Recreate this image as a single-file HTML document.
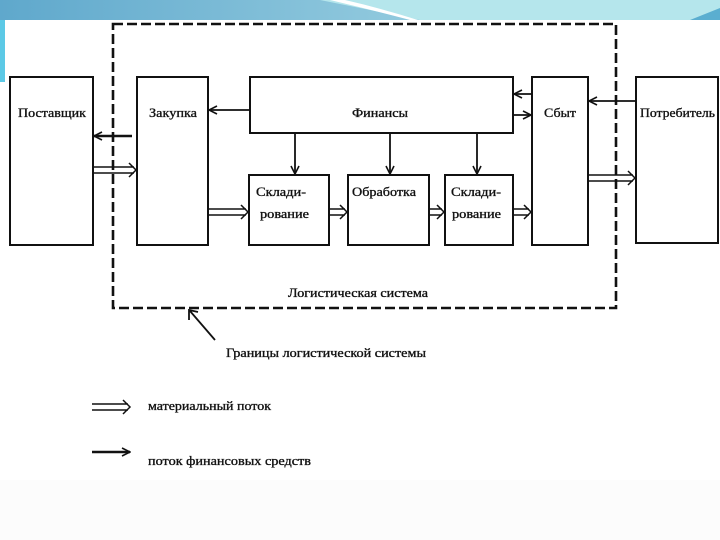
<!DOCTYPE html>
<html><head><meta charset="utf-8"><style>
html,body{margin:0;padding:0;background:#fff;}
svg{display:block;}
text{font-family:"Liberation Serif",serif;font-size:13px;fill:#111;stroke:#111;stroke-width:0.35;}
</style></head><body>
<svg width="720" height="540" viewBox="0 0 720 540">
<defs>
<linearGradient id="hg" x1="0" x2="1" y1="0" y2="0">
<stop offset="0" stop-color="#5fa8cc"/><stop offset="0.5" stop-color="#8cc6dc"/><stop offset="1" stop-color="#a9dfe8"/>
</linearGradient>
<marker id="a" markerWidth="10" markerHeight="10" refX="9" refY="5" orient="auto" markerUnits="userSpaceOnUse">
<path d="M1,1 L9,5 L1,9" fill="none" stroke="#111" stroke-width="1.6"/></marker>
</defs>
<rect x="0" y="0" width="720" height="20" fill="url(#hg)"/>
<path d="M320,0 L420,20 L720,20 L720,0 Z" fill="#b5e6ec"/>
<path d="M330,0 Q380,12 410,20 L418,20 Q380,8 345,0Z" fill="#fff"/>
<path d="M690,20 L720,8 L720,20Z" fill="#5aaed0"/>
<rect x="0" y="20" width="5" height="62" fill="#5cc9e6"/>
<rect x="0" y="480" width="720" height="60" fill="#fcfcfc"/>
<g fill="none" stroke="#111" stroke-width="2">
<rect x="113" y="24" width="503" height="284" stroke-dasharray="10,4" stroke-width="2.6"/>
<rect x="10" y="77" width="83" height="168"/>
<rect x="137" y="77" width="71" height="168"/>
<rect x="250" y="77" width="263" height="56"/>
<rect x="532" y="77" width="56" height="168"/>
<rect x="636" y="77" width="82" height="166"/>
<rect x="249" y="175" width="80" height="70"/>
<rect x="348" y="175" width="81" height="70"/>
<rect x="445" y="175" width="68" height="70"/>
</g>
<g stroke="#111" stroke-width="1.8" fill="none" marker-end="url(#a)">
<line x1="250" y1="110" x2="209" y2="110"/>
<line x1="132" y1="136" x2="94" y2="136" stroke-width="2.5"/>
<line x1="295" y1="133" x2="295" y2="174"/>
<line x1="390" y1="133" x2="390" y2="174"/>
<line x1="477" y1="133" x2="477" y2="174"/>
<line x1="532" y1="94" x2="514" y2="94"/>
<line x1="513" y1="115" x2="531" y2="115"/>
<line x1="636" y1="101" x2="589" y2="101"/>
<line x1="92" y1="452" x2="130" y2="452" stroke-width="2.5"/>
</g>
<g stroke="#111" stroke-width="1.5" fill="none">
<path d="M93,167 H134 M93,173 H134 M129,163 L136,170 L129,177"/>
<path d="M208,209 H246 M208,215 H246 M241,205 L248,212 L241,219"/>
<path d="M329,209 H345 M329,215 H345 M340,205 L347,212 L340,219"/>
<path d="M429,209 H442 M429,215 H442 M437,205 L444,212 L437,219"/>
<path d="M513,209 H529 M513,215 H529 M524,205 L531,212 L524,219"/>
<path d="M588,175 H633 M588,181 H633 M628,171 L635,178 L628,185"/>
<path d="M92,404 H128 M92,410 H128 M123,400 L130,407 L123,414"/>
<path d="M215,340 L190,311 M189,320 L189,310 L198,312" stroke-width="1.8"/>
</g>
<text x="18" y="117" textLength="68" lengthAdjust="spacingAndGlyphs">Поставщик</text>
<text x="149" y="117" textLength="48" lengthAdjust="spacingAndGlyphs">Закупка</text>
<text x="352" y="117" textLength="56" lengthAdjust="spacingAndGlyphs">Финансы</text>
<text x="544" y="117" textLength="32" lengthAdjust="spacingAndGlyphs">Сбыт</text>
<text x="640" y="117" textLength="75" lengthAdjust="spacingAndGlyphs">Потребитель</text>
<text x="256" y="196" textLength="50" lengthAdjust="spacingAndGlyphs">Склади-</text>
<text x="260" y="218" textLength="49" lengthAdjust="spacingAndGlyphs">рование</text>
<text x="352" y="196" textLength="64" lengthAdjust="spacingAndGlyphs">Обработка</text>
<text x="451" y="196" textLength="50" lengthAdjust="spacingAndGlyphs">Склади-</text>
<text x="452" y="218" textLength="49" lengthAdjust="spacingAndGlyphs">рование</text>
<text x="288" y="297" textLength="140" lengthAdjust="spacingAndGlyphs">Логистическая система</text>
<text x="226" y="357" textLength="200" lengthAdjust="spacingAndGlyphs">Границы логистической системы</text>
<text x="148" y="410" textLength="123" lengthAdjust="spacingAndGlyphs">материальный поток</text>
<text x="148" y="465" textLength="163" lengthAdjust="spacingAndGlyphs">поток финансовых средств</text>
</svg>
</body></html>
